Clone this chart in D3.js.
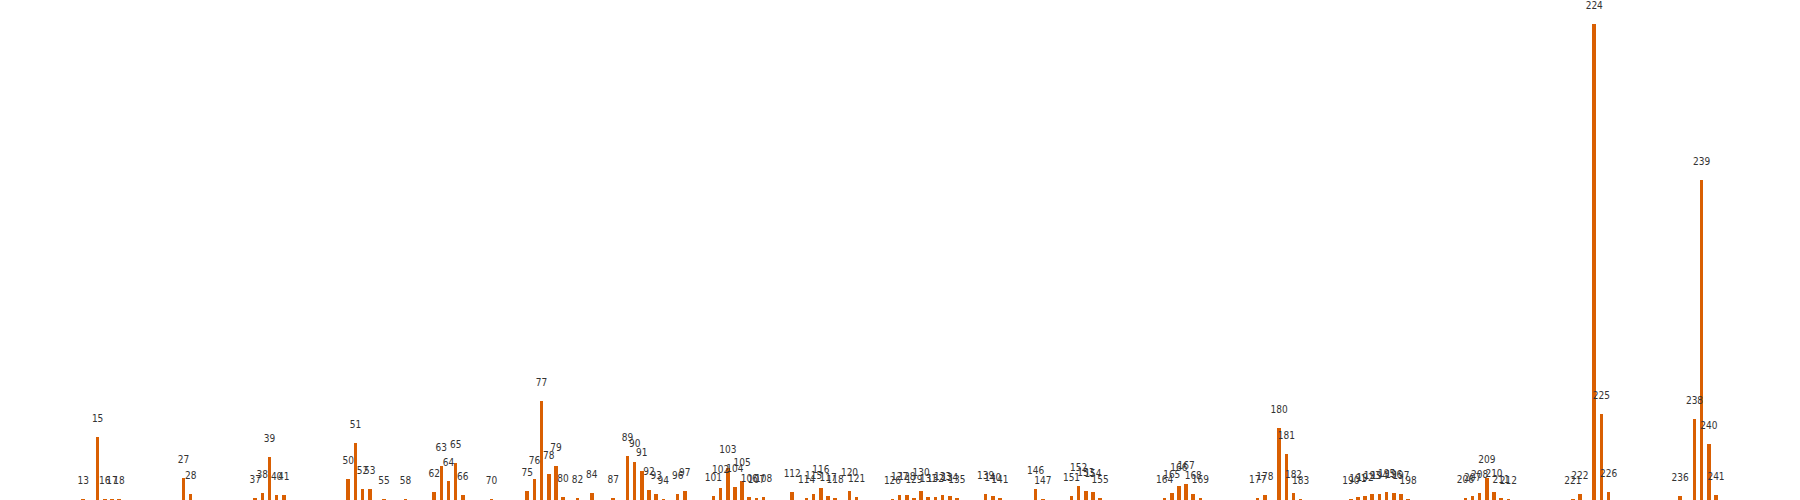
<!DOCTYPE html>
<html>
<head>
<meta charset="utf-8">
<script src="https://cdn.jsdelivr.net/npm/d3@7"></script>
<style>
  html, body { margin: 0; padding: 0; background: #fff; }
  svg { display: block; }
</style>
</head>
<body>
<svg id="chart" width="1800" height="500"></svg>
<script>
const categories = [13,15,16,17,18,27,28,37,38,39,40,41,50,51,52,53,55,58,62,63,64,65,66,70,75,76,77,78,79,80,82,84,87,89,90,91,92,93,94,96,97,101,102,103,104,105,106,107,108,112,114,115,116,117,118,120,121,126,127,128,129,130,131,132,133,134,135,139,140,141,146,147,151,152,153,154,155,164,165,166,167,168,169,177,178,180,181,182,183,190,191,192,193,194,195,196,197,198,206,207,208,209,210,211,212,221,222,224,225,226,236,238,239,240,241];
const values = [1,63,1,1,1,22,6,2,7,43,5,5,21,57,11,11,1,1,8,34,19,37,5,1,9,21,99,26,34,3,2,7,2,44,38,29,10,6,1,6,9,4,12,32,13,19,3,2,3,8,2,6,12,4,2,9,3,1,5,5,2,9,3,3,5,4,2,6,4,2,11,1,4,14,9,8,2,2,7,14,16,6,2,2,5,72,46,7,1,1,3,4,6,6,8,7,6,1,2,4,7,22,8,2,1,1,6,476,86,8,4,81,320,56,5];
const xDomain = [1.37, 252.73];
const yDomain = [0, 476];

const W = 1800, H = 500;
const svg = d3.select("#chart");
const x = d3.scaleLinear().domain(xDomain).range([0, W]);
const y = d3.scaleLinear().domain(yDomain).range([H, 24]);
const step = x(1) - x(0);
const bw = step * 0.5;

const data = categories.map((c, i) => ({c, v: values[i]}));

svg.append("g")
  .selectAll("rect")
  .data(data)
  .join("rect")
  .attr("x", d => x(d.c) - bw / 2)
  .attr("y", d => y(d.v))
  .attr("width", bw)
  .attr("height", d => H - y(d.v))
  .attr("fill", "#d95f02")
  .attr("shape-rendering", "crispEdges");

svg.append("g")
  .selectAll("text")
  .data(data)
  .join("text")
  .attr("x", d => x(d.c))
  .attr("y", d => y(d.v) - 15.5)
  .attr("text-anchor", "middle")
  .attr("font-family", "'Liberation Sans Narrow', 'DejaVu Sans Condensed', sans-serif")
  .attr("font-size", 10)
  .attr("fill", "#333")
  .text(d => d.c);
</script>
</body>
</html>
